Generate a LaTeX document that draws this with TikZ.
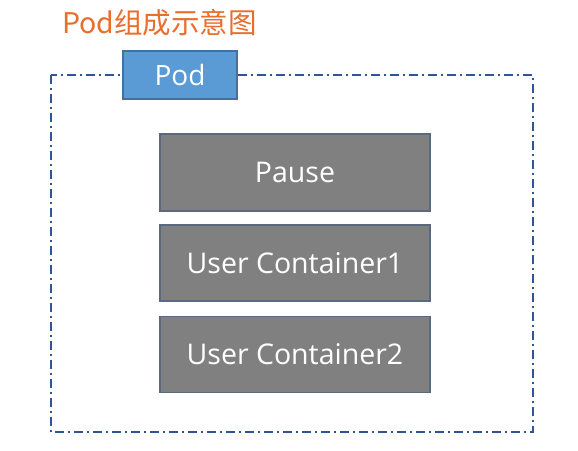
\documentclass[tikz,border=0pt]{standalone}
\usepackage{fontspec}
\setmainfont{Open Sans}
\newfontfamily\cjk{Noto Sans CJK SC}
\definecolor{podblue}{RGB}{91,155,213}
\definecolor{podedge}{RGB}{65,113,156}
\definecolor{boxgray}{RGB}{128,128,128}
\definecolor{boxedge}{RGB}{90,105,125}
\definecolor{frameblue}{RGB}{47,85,151}
\definecolor{titleorange}{RGB}{232,110,45}
\begin{document}
\begin{tikzpicture}[x=1pt,y=-1pt,
  cbox/.style={draw=boxedge, line width=1.2pt, fill=boxgray, text=white,
    font=\fontsize{28.5}{32}\selectfont, inner sep=0pt},
  podbox/.style={draw=podedge, line width=1.2pt, fill=podblue, text=white,
    font=\fontsize{28}{32}\selectfont, inner sep=0pt},
  frame/.style={draw=frameblue, line width=1.4pt,
    dash pattern=on 9pt off 4pt on 2pt off 4pt}]
\useasboundingbox (0,0) rectangle (578,450);
\fill[white] (0,0) rectangle (578,450);
\node[anchor=west, text=titleorange, font=\cjk\fontsize{28.5}{32}\selectfont, inner sep=0pt] (title) at (62,23) {Pod组成示意图};
\draw[frame] (51,75) rectangle (533,432);
\node[podbox, minimum width=114pt, minimum height=48pt] (pod) at (180,75) {Pod};
\node[cbox, minimum width=270pt, minimum height=77pt] (pause) at (295,172.5) {Pause};
\node[cbox, minimum width=270pt, minimum height=76pt] (uc1) at (295,263) {User Container1};
\node[cbox, minimum width=270pt, minimum height=76pt] (uc2) at (295,354.5) {User Container2};
\end{tikzpicture}
\end{document}
